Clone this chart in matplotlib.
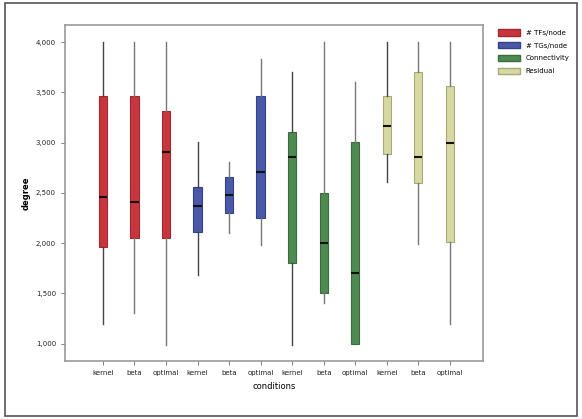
import numpy as np
import matplotlib.pyplot as plt
from matplotlib.patches import Rectangle, Patch

# values (whisker low, q1, median, q3, whisker high)
labels = ['kernel', 'beta', 'optimal'] * 4
whislo = [1.19, 1.30, 0.99, 1.68, 2.10, 1.98, 0.99, 1.40, 1.00, 2.61, 1.99, 1.19]
q1 = [1.96, 2.05, 2.05, 2.11, 2.30, 2.25, 1.80, 1.50, 1.00, 2.89, 2.60, 2.01]
med = [2.46, 2.41, 2.91, 2.37, 2.48, 2.71, 2.86, 2.00, 1.70, 3.16, 2.86, 3.00]
q3 = [3.46, 3.46, 3.31, 2.56, 2.66, 3.46, 3.11, 2.50, 3.01, 3.46, 3.70, 3.56]
whishi = [4.00, 4.00, 4.00, 3.01, 2.81, 3.83, 3.70, 4.00, 3.60, 4.00, 4.00, 4.00]

groups = ['# TFs/node', '# TGs/node', 'Connectivity', 'Residual']
colors = ['#c9353d', '#4a58a8', '#4f8a52', '#d8d8a2']
edges = ['#9e2a30', '#35418a', '#3a6b3d', '#a8a878']
yticks = [1.0, 1.5, 2.0, 2.5, 3.0, 3.5, 4.0]

fig = plt.figure(figsize=(5.82, 4.19), dpi=100)
fig.patches.append(Rectangle((0.009, 0.007), 0.982, 0.986, transform=fig.transFigure,
                             fill=False, edgecolor='#555555', linewidth=1.2))
ax = fig.add_axes([0.1117, 0.1384, 0.7182, 0.8019])

stats = []
for i in range(len(labels)):
    stats.append({'whislo': whislo[i], 'q1': q1[i], 'med': med[i],
                  'q3': q3[i], 'whishi': whishi[i], 'fliers': []})

pos = np.arange(1, len(labels) + 1)
bp = ax.bxp(stats, positions=pos, widths=0.26, patch_artist=True,
            showcaps=False, showfliers=False)
for i, box in enumerate(bp['boxes']):
    g = i // 3
    box.set_facecolor(colors[g])
    box.set_edgecolor(edges[g])
    box.set_linewidth(0.8)
for i, w in enumerate(bp['whiskers']):
    w.set_color('#444444' if (i // 2) % 3 == 0 else '#777777')
    w.set_linewidth(1.0)
for m in bp['medians']:
    m.set_color('#111111')
    m.set_linewidth(1.5)

ax.set_xlim(-0.2, 13.05)
ax.set_ylim(0.826, 4.17)
ax.set_xticks(pos)
ax.set_xticklabels(labels, fontsize=5)
ax.set_yticks(yticks)
ax.set_yticklabels([('%.3f' % v).replace('.', ',') for v in yticks], fontsize=5)
ax.tick_params(length=3, width=0.6, color='#666666', labelcolor='#222222')
ax.set_ylabel('degree', fontsize=6, fontweight='bold')
ax.set_xlabel('conditions', fontsize=6)
for s in ax.spines.values():
    s.set_color('#999999')
    s.set_linewidth(1.2)

handles = [Patch(facecolor=colors[k], edgecolor=edges[k], label=groups[k]) for k in range(4)]
fig.legend(handles=handles, loc='upper left', bbox_to_anchor=(0.845, 0.945),
           frameon=False, fontsize=5, handlelength=3.2, handleheight=1.0,
           labelspacing=0.9)

fig.savefig('out.png', dpi=100)
